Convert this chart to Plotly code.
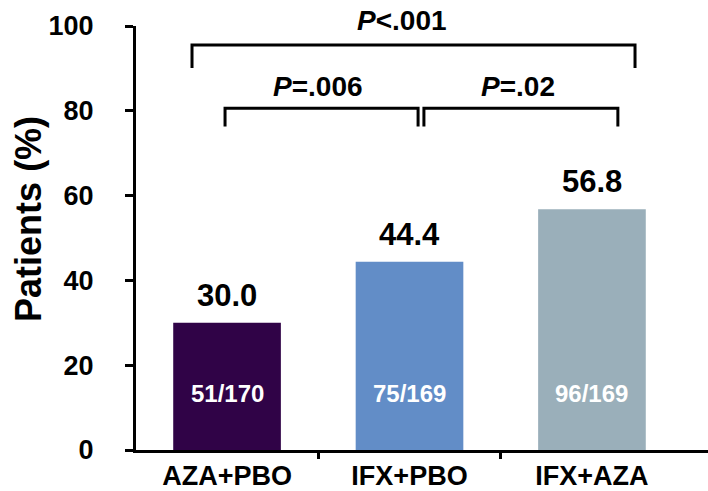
import plotly.graph_objects as go

categories = ["AZA+PBO", "IFX+PBO", "IFX+AZA"]
values = [30.0, 44.4, 56.8]
value_labels = ["30.0", "44.4", "56.8"]
count_labels = ["51/170", "75/169", "96/169"]
bar_colors = ["#300347", "#628DC7", "#9AAFBA"]
y_ticks = [0, 20, 40, 60, 80, 100]

# significance brackets: (x0, x1, y_top, y_leg_bottom, label, label_x, label_y)
brackets = [
    (-0.192, 2.236, 95.5, 90.1, "<i>P</i><.001", 0.959, 101.4),
    (-0.011, 1.047, 80.6, 76.3, "<i>P</i>=.006", 0.499, 85.7),
    (1.079, 2.142, 80.6, 76.3, "<i>P</i>=.02", 1.595, 85.7),
]

FONT = "Liberation Sans, Arial, sans-serif"

fig = go.Figure()
fig.add_trace(go.Bar(
    x=[0, 1, 2], y=values, marker=dict(color=bar_colors, line=dict(width=0)),
    width=0.59, hoverinfo="skip", showlegend=False,
))
# invisible trace to anchor the tick-only overlay axis
fig.add_trace(go.Scatter(x=[0], y=[0], xaxis="x2", mode="markers",
                         marker=dict(opacity=0), showlegend=False, hoverinfo="skip"))

xr = [-0.499, 2.636]
fig.update_layout(
    width=708, height=491,
    margin=dict(l=136, r=0, t=26, b=39),
    plot_bgcolor="white", paper_bgcolor="white",
    font=dict(family=FONT, color="black"),
    xaxis=dict(
        range=xr, tickvals=[0, 1, 2], ticktext=categories, ticks="",
        showline=True, linewidth=3, linecolor="black", showgrid=False, zeroline=False,
        tickfont=dict(size=27, family=FONT, weight="bold"),
    ),
    xaxis2=dict(
        range=xr, overlaying="x", anchor="y", side="bottom",
        tickvals=[0.5, 1.5], ticks="outside", ticklen=8, tickwidth=3, tickcolor="black",
        showticklabels=False, showline=False, showgrid=False, zeroline=False,
    ),
    yaxis=dict(
        range=[0, 100], tickvals=y_ticks, ticks="outside", ticklen=8, tickwidth=3,
        tickcolor="black", showline=True, linewidth=3, linecolor="black",
        showgrid=False, zeroline=False, ticklabelstandoff=26,
        tickfont=dict(size=27, family=FONT, weight="bold"),
    ),
    bargap=0.41,
)

for b in brackets:
    x0, x1, yt, yb, lab, lx, ly = b
    fig.add_shape(type="path",
                  path=f"M {x0} {yb} L {x0} {yt} L {x1} {yt} L {x1} {yb}",
                  xref="x", yref="y", line=dict(color="black", width=3))
    fig.add_annotation(x=lx, y=ly / 100.0, xref="x", yref="paper", text=lab, showarrow=False,
                       font=dict(size=28, family=FONT, weight="bold"), yanchor="middle")

for i, (v, vl, cl) in enumerate(zip(values, value_labels, count_labels)):
    fig.add_annotation(x=i, y=v, xref="x", yref="y", text=vl, showarrow=False,
                       yanchor="bottom", yshift=8,
                       font=dict(size=31, family=FONT, weight="bold"))
    fig.add_annotation(x=i, y=13.4, xref="x", yref="y", text=cl, showarrow=False,
                       yanchor="middle",
                       font=dict(size=24, family=FONT, weight="bold", color="white"))

fig.add_annotation(x=0, y=54.5, xref="paper", yref="y", xshift=-107, text="Patients (%)",
                   textangle=-90, showarrow=False, xanchor="center", yanchor="middle",
                   font=dict(size=36, family=FONT, weight="bold"))

fig.write_html("out.html", config={"displayModeBar": False},
               post_script="document.body.style.margin='0';document.body.style.padding='0';")
